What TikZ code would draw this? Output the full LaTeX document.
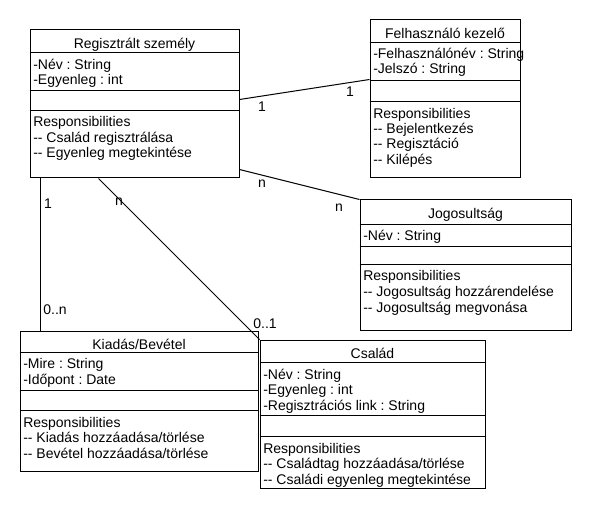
\documentclass[tikz,border=0pt]{standalone}
\usepackage{fontspec}
\setmainfont{Liberation Sans}
\usetikzlibrary{fit,calc}
\frenchspacing
\newcommand{\dd}{-\kern0pt-}
\newcommand{\classlines}[4]{%
  \foreach \t [count=\i from 0] in {#4}{%
    \node[txt,anchor=base west] (#1\i) at (#2,{#3+15.5*\i}) {\t};}}
\newcommand{\classseps}[2]{%
  \foreach \d in {#2}{%
    \draw[link] ($(#1.north west)+(0,\d)$) -- ($(#1.north east)+(0,\d)$);}}
\begin{document}
\begin{tikzpicture}[x=0.75pt,y=-0.75pt,
  box/.style={draw,line width=0.75pt,inner sep=0pt},
  txt/.style={inner sep=0pt,font=\fontsize{10.5}{12}\selectfont},
  lbl/.style={txt,anchor=base},
  link/.style={line width=0.75pt}]
\useasboundingbox (0,0) rectangle (590,510);

% Regisztrált személy
\node[box,fit={(30,30) (239,178)}] (rs) {};
\classseps{rs}{23,61,81}
\node[txt,anchor=base] (rst) at ($(rs.north)+(0,19)$) {Regisztrált személy};
\classlines{rsa}{33}{69.5}{-Név : String,-Egyenleg : int}
\classlines{rsr}{33}{127}{Responsibilities,\dd{} Család regisztrálása,\dd{} Egyenleg megtekintése}

% Felhasználó kezelő
\node[box,fit={(370,20) (520,178)}] (fk) {};
\classseps{fk}{23,61,82}
\node[txt,anchor=base] (fkt) at ($(fk.north)+(0,19)$) {Felhasználó kezelő};
\classlines{fka}{373}{58.5}{-Felhasználónév : String,-Jelszó : String}
\classlines{fkr}{373}{118}{Responsibilities,\dd{} Bejelentkezés,\dd{} Regisztáció,\dd{} Kilépés}

% Jogosultság
\node[box,fit={(360,200) (571,330)}] (jo) {};
\classseps{jo}{25,47,65}
\node[txt,anchor=base] (jot) at ($(jo.north)+(0,19.5)$) {Jogosultság};
\classlines{joa}{363}{240}{-Név : String}
\classlines{jor}{363}{281}{Responsibilities,\dd{} Jogosultság hozzárendelése,\dd{} Jogosultság megvonása}

% Kiadás/Bevétel
\node[box,fit={(20,331) (258,471)}] (kb) {};
\classseps{kb}{22,60,80}
\node[txt,anchor=base] (kbt) at ($(kb.north)+(0,18.5)$) {Kiadás/Bevétel};
\classlines{kba}{23}{368.5}{-Mire : String,-Időpont : Date}
\classlines{kbr}{23}{427}{Responsibilities,\dd{} Kiadás hozzáadása/törlése,\dd{} Bevétel hozzáadása/törlése}

% Család
\node[box,fit={(260,340) (485,488)}] (cs) {};
\classseps{cs}{23,76,97}
\node[txt,anchor=base] (cst) at ($(cs.north)+(0,19)$) {Család};
\classlines{csa}{263}{379}{-Név : String,-Egyenleg : int,-Regisztrációs link : String}
\classlines{csr}{263}{453}{Responsibilities,\dd{} Családtag hozzáadása/törlése,\dd{} Családi egyenleg megtekintése}

% connectors
\draw[link] ($(rs.north east)+(0,70)$) -- ($(fk.north west)+(0,60)$);
\draw[link] ($(rs.north east)+(0,140)$) -- (jo.north west);
\draw[link] ($(rs.south west)+(11,0)$) -- ($(kb.north west)+(21,0)$);
\draw[link] ($(rs.south west)+(69,0)$) -- (cs.north west);

% multiplicities
\node[lbl] (m1) at (262,112) {1};
\node[lbl] (m2) at (350,97) {1};
\node[lbl] (m3) at (262,188) {n};
\node[lbl] (m4) at (339,211) {n};
\node[lbl] (m5) at (48,209) {1};
\node[lbl] (m6) at (55,314) {0..n};
\node[lbl] (m7) at (119,205) {n};
\node[lbl] (m8) at (265,328) {0..1};
\end{tikzpicture}
\end{document}
